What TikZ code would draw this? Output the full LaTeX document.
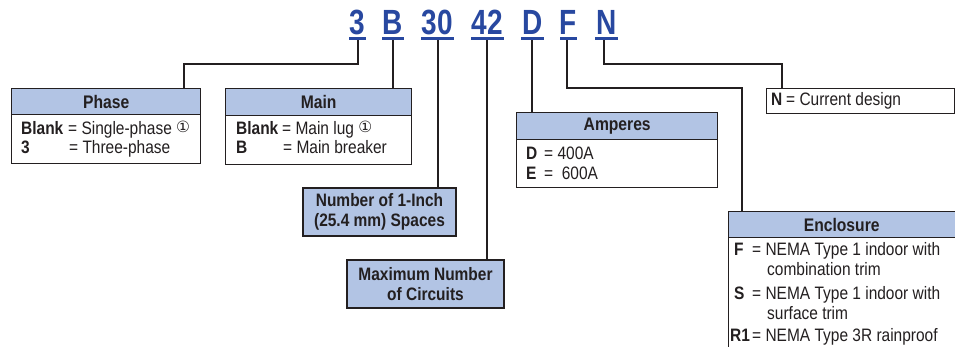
\documentclass[tikz,border=0pt]{standalone}
\usepackage{fontspec}
\setmainfont{Liberation Sans}[FakeStretch=0.86]
\newfontfamily\codefont{Liberation Sans}[FakeStretch=0.8]
\newfontfamily\dejavu{DejaVu Sans}
\definecolor{codeblue}{RGB}{40,72,160}
\definecolor{hdrfill}{RGB}{178,196,228}
\definecolor{ink}{RGB}{35,31,32}
\newcommand{\circone}{\raisebox{2.5pt}{\fontsize{15.5}{15.5}\selectfont\dejavu ①}}
\tikzset{
  every node/.style={text=ink},
  boxframe/.style={draw=ink, line width=1.4pt, fill=white, inner sep=0pt, anchor=north west},
  hdrbox/.style={draw=ink, line width=1.4pt, fill=hdrfill, inner sep=0pt, anchor=north west, font=\fontsize{18.2}{20}\selectfont\bfseries},
  fillbox/.style={draw=ink, line width=1.4pt, fill=hdrfill, inner sep=0pt, align=center, font=\fontsize{18}{19.5}\selectfont\bfseries},
  txt/.style={inner sep=0pt, anchor=base west, font=\fontsize{18}{20}\selectfont},
  code/.style={inner sep=0pt, anchor=base, text=codeblue, font=\fontsize{35}{35}\selectfont\codefont\bfseries},
  uline/.style={draw=codeblue, line width=3pt},
  conn/.style={draw=ink, line width=2.6pt}
}
\begin{document}
\begin{tikzpicture}[x=1pt,y=-1pt]
\useasboundingbox (0,0) rectangle (955,347);
\clip (0,0) rectangle (955,347);
\fill[white] (0,0) rectangle (955,347);

% code letters
\node[code] (c3) at (357.5,35) {3};
\node[code] (cB) at (393,35) {B};
\node[code] (c30) at (437.5,35) {30};
\node[code] (c42) at (487.5,35) {42};
\node[code] (cD) at (533,35) {D};
\node[code] (cF) at (568.5,35) {F};
\node[code] (cN) at (606.5,35) {N};
\draw[uline] (349,39) -- (366,39);
\draw[uline] (382,39) -- (404,39);
\draw[uline] (421,39) -- (454,39);
\draw[uline] (471,39) -- (504,39);
\draw[uline] (521,39) -- (544,39);
\draw[uline] (560,39) -- (577,39);
\draw[uline] (595,39) -- (618,39);
\coordinate (u3) at (358,40.5);
\coordinate (uB) at (393,40.5);
\coordinate (u30) at (438,40.5);
\coordinate (u42) at (487,40.5);
\coordinate (uD) at (532,40.5);
\coordinate (uF) at (567,40.5);
\coordinate (uN) at (604,40.5);

% Phase box
\node[boxframe, minimum width=189, minimum height=75] (phase) at (11,88) {};
\node[hdrbox, minimum width=189, minimum height=26] (phaseh) at (11,88) {Phase};
\node[txt] (p1a) at (21,135) {\textbf{Blank}};
\node[txt] (p1b) at (68,135) {= Single-phase \circone};
\node[txt] (p2a) at (21,154) {\textbf{3}};
\node[txt] (p2b) at (69,154) {= Three-phase};

% Main box
\node[boxframe, minimum width=186, minimum height=76] (main) at (225,88) {};
\node[hdrbox, minimum width=186, minimum height=27] (mainh) at (225,88) {Main};
\node[txt] (m1a) at (236,135) {\textbf{Blank}};
\node[txt] (m1b) at (282,135) {= Main lug \circone};
\node[txt] (m2a) at (236,154) {\textbf{B}};
\node[txt] (m2b) at (283,154) {= Main breaker};

% Number of spaces
\node[fillbox, minimum width=153, minimum height=48] (spaces) at (379.5,212) {Number of 1-Inch\\(25.4 mm) Spaces};
% Maximum number of circuits
\node[fillbox, minimum width=157, minimum height=48] (circ) at (425.5,284) {Maximum Number\\of Circuits};

% Amperes box
\node[boxframe, minimum width=201, minimum height=75] (amp) at (516,112) {};
\node[hdrbox, minimum width=201, minimum height=27] (amph) at (516,112) {Amperes};
\node[txt] (a1a) at (526,160) {\textbf{D}};
\node[txt] (a1b) at (544,160) {= 400A};
\node[txt] (a2a) at (526,180) {\textbf{E}};
\node[txt] (a2b) at (544,180) {=\ \ 600A};

% N box
\node[boxframe, minimum width=188, minimum height=25] (nbox) at (766,88) {};
\node[txt] (n1a) at (771,106) {\textbf{N}};
\node[txt] (n1b) at (786,106) {= Current design};

% Enclosure box
\node[boxframe, minimum width=229, minimum height=141] (encl) at (728,211) {};
\node[hdrbox, minimum width=229, minimum height=26] (enclh) at (728,211) {\hspace*{-3pt}Enclosure};
\node[txt] (e1a) at (734,256) {\textbf{F}};
\node[txt] (e1b) at (752,256) {= NEMA Type 1 indoor with};
\node[txt] (e1c) at (767,275) {combination trim};
\node[txt] (e2a) at (734,299) {\textbf{S}};
\node[txt] (e2b) at (752,299) {= NEMA Type 1 indoor with};
\node[txt] (e2c) at (767,319) {surface trim};
\node[txt] (e3a) at (730,341) {\textbf{R1}};
\node[txt] (e3b) at (752,341) {= NEMA Type 3R rainproof};

% connectors
\coordinate (k3) at (184,64);
\draw[conn] (u3) |- (k3) -- (k3 |- phaseh.north);
\draw[conn] (uB) -- (uB |- mainh.north);
\draw[conn] (u30) -- (u30 |- spaces.north);
\draw[conn] (u42) -- (u42 |- circ.north);
\draw[conn] (uD) -- (uD |- amph.north);
\coordinate (kF) at (742,88);
\draw[conn] (uF) |- (kF) -- (kF |- enclh.north);
\coordinate (kN) at (782,64);
\draw[conn] (uN) |- (kN) -- (kN |- nbox.north);
\end{tikzpicture}
\end{document}
